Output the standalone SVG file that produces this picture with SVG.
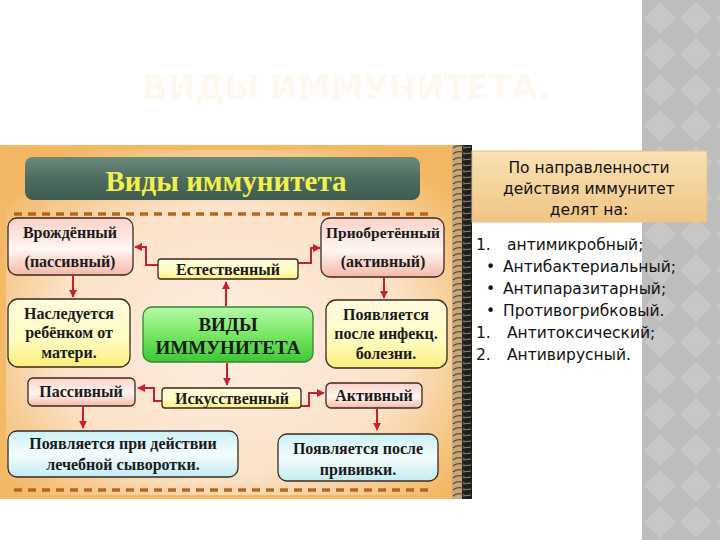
<svg xmlns="http://www.w3.org/2000/svg" width="720" height="540" viewBox="0 0 720 540">
<defs>
<style>
.node text{font-family:"Liberation Serif","DejaVu Serif",serif;font-weight:bold;fill:#1a1a1a;text-anchor:middle}
.nb{stroke:#3a2a20;stroke-width:1.3}
.conn path{fill:none;stroke:#c8202a;stroke-width:2;marker-end:url(#ah)}
.rt{font-family:"DejaVu Sans","Noto Sans",sans-serif;font-size:15.5px;fill:#111}
</style>
<marker id="ah" viewBox="0 0 10 10" refX="9" refY="5" markerWidth="4" markerHeight="4" orient="auto">
<path d="M0,0 L10,5 L0,10 z" fill="#c8202a"/>
</marker>
<radialGradient id="bg" cx="0.5" cy="0.55" r="0.65">
<stop offset="0" stop-color="#fdeee2"/>
<stop offset="0.6" stop-color="#fbe2c8"/>
<stop offset="1" stop-color="#f3b763"/>
</radialGradient>
<linearGradient id="title" x1="0" y1="0" x2="0" y2="1">
<stop offset="0" stop-color="#6b8a7c"/>
<stop offset="0.5" stop-color="#4d6d60"/>
<stop offset="1" stop-color="#3e5b50"/>
</linearGradient>
<linearGradient id="pink" x1="0" y1="0" x2="0" y2="1">
<stop offset="0" stop-color="#fbd2c8"/>
<stop offset="0.55" stop-color="#fff6f2"/>
<stop offset="1" stop-color="#f6b8a8"/>
</linearGradient>
<linearGradient id="yel" x1="0" y1="0" x2="0" y2="1">
<stop offset="0" stop-color="#fffbe0"/>
<stop offset="0.6" stop-color="#fffcc0"/>
<stop offset="1" stop-color="#fbef7a"/>
</linearGradient>
<linearGradient id="grn" x1="0" y1="0" x2="0" y2="1">
<stop offset="0" stop-color="#b9f7a8"/>
<stop offset="0.45" stop-color="#7fea6a"/>
<stop offset="1" stop-color="#3cc734"/>
</linearGradient>
<linearGradient id="blu" x1="0" y1="0" x2="0" y2="1">
<stop offset="0" stop-color="#c9f1f6"/>
<stop offset="0.5" stop-color="#f4fcfd"/>
<stop offset="1" stop-color="#c2ecf3"/>
</linearGradient>
<linearGradient id="tan" x1="0" y1="0" x2="0" y2="1">
<stop offset="0" stop-color="#f8e2b4"/>
<stop offset="1" stop-color="#f0c584"/>
</linearGradient>
<pattern id="diam" x="642" y="0" width="36" height="36" patternUnits="userSpaceOnUse">
<rect width="36" height="36" fill="#bdbdbd"/>
<path d="M18,2 L34,18 L18,34 L2,18 z" fill="#c7c7c7"/>
</pattern>
<pattern id="spiral" x="452" y="0" width="20" height="6" patternUnits="userSpaceOnUse">
<rect width="20" height="6" fill="#c9a77a"/>
<rect x="10" width="10" height="6" fill="#1f1f1c"/>
<path d="M1,4 Q6,0 13,3" stroke="#5e5040" stroke-width="1.3" fill="none"/>
<path d="M11,4 L19,3" stroke="#8a8a80" stroke-width="1" fill="none"/>
</pattern>
</defs>
<rect width="720" height="540" fill="#ffffff"/>
<rect x="642" y="0" width="78" height="540" fill="url(#diam)"/>
<text x="346" y="99" font-family="DejaVu Sans,sans-serif" font-size="33" font-weight="bold" fill="#fdf8f0" text-anchor="middle">ВИДЫ ИММУНИТЕТА.</text>

<g id="panel">
<rect x="0" y="145" width="472" height="354" fill="#f3b965"/>
<rect x="6" y="150" width="448" height="345" fill="url(#bg)"/>
<rect x="452" y="145" width="20" height="354" fill="url(#spiral)"/>
<line x1="14" y1="214" x2="432" y2="214" stroke="#b8651c" stroke-width="3.5" stroke-dasharray="8,6"/>
<line x1="14" y1="490" x2="432" y2="490" stroke="#b8651c" stroke-width="3.5" stroke-dasharray="8,6"/>
</g>

<g id="title-bar">
<rect x="25" y="157" width="395" height="43" rx="8" fill="url(#title)"/>
<text x="226" y="191" font-family="Liberation Serif,serif" font-weight="bold" font-size="29" fill="#f3f04a" text-anchor="middle">Виды иммунитета</text>
</g>

<g class="conn" id="connectors">
<path d="M158,265 H146 V247 H135"/>
<path d="M298,263 H311 V248 H320"/>
<path d="M226,306 V282"/>
<path d="M73,276 V297"/>
<path d="M384,278 V298"/>
<path d="M227,363 V385"/>
<path d="M162,401 H154 V388 H138"/>
<path d="M301,406 H309 V393 H324"/>
<path d="M83,407 V428"/>
<path d="M377,409 V430"/>
</g>

<g class="node" id="n-vrozhd">
<rect class="nb" x="8" y="218" width="125" height="57" rx="9" fill="url(#pink)"/>
<text x="70" y="238" font-size="16">Врождённый</text>
<text x="70" y="267" font-size="16">(пассивный)</text>
</g>
<g class="node" id="n-priobr">
<rect class="nb" x="321" y="218" width="123" height="59" rx="9" fill="url(#pink)"/>
<text x="383" y="238" font-size="15.5">Приобретённый</text>
<text x="383" y="267" font-size="16">(активный)</text>
</g>
<g class="node" id="n-estest">
<rect class="nb" x="158" y="259" width="140" height="20" rx="3" fill="url(#yel)"/>
<text x="228" y="275" font-size="16">Естественный</text>
</g>
<g class="node" id="n-nasled">
<rect class="nb" x="8" y="299" width="122" height="68" rx="10" fill="url(#yel)"/>
<text x="69" y="319" font-size="16">Наследуется</text>
<text x="69" y="338" font-size="16">ребёнком от</text>
<text x="69" y="358" font-size="16">матери.</text>
</g>
<g class="node" id="n-vidy">
<rect x="143" y="307" width="170" height="55" rx="9" fill="url(#grn)" stroke="#2f8a2a" stroke-width="1.3"/>
<text x="228" y="331" font-size="19">ВИДЫ</text>
<text x="228" y="354" font-size="19">ИММУНИТЕТА</text>
</g>
<g class="node" id="n-infek">
<rect class="nb" x="326" y="300" width="121" height="68" rx="10" fill="url(#yel)"/>
<text x="386" y="320" font-size="16">Появляется</text>
<text x="386" y="339" font-size="16">после инфекц.</text>
<text x="386" y="359" font-size="16">болезни.</text>
</g>
<g class="node" id="n-passiv">
<rect class="nb" x="28" y="378" width="107" height="28" rx="5" fill="url(#pink)"/>
<text x="81" y="397" font-size="16">Пассивный</text>
</g>
<g class="node" id="n-iskus">
<rect class="nb" x="162" y="388" width="139" height="20" rx="3" fill="url(#yel)"/>
<text x="232" y="404" font-size="16">Искусственный</text>
</g>
<g class="node" id="n-aktiv">
<rect class="nb" x="326" y="383" width="96" height="25" rx="5" fill="url(#pink)"/>
<text x="374" y="401" font-size="16">Активный</text>
</g>
<g class="node" id="n-syvor">
<rect class="nb" x="8" y="431" width="230" height="46" rx="9" fill="url(#blu)"/>
<text x="123" y="449" font-size="16">Появляется при действии</text>
<text x="123" y="470" font-size="16">лечебной сыворотки.</text>
</g>
<g class="node" id="n-priviv">
<rect class="nb" x="278" y="434" width="160" height="47" rx="9" fill="url(#blu)"/>
<text x="358" y="454" font-size="16">Появляется после</text>
<text x="358" y="475" font-size="16">прививки.</text>
</g>

<g id="side-box">
<rect x="472" y="151" width="235" height="71" fill="url(#tan)" stroke="#e6c08a" stroke-width="1"/>
<text class="rt" x="589" y="173" text-anchor="middle">По направленности</text>
<text class="rt" x="589" y="194" text-anchor="middle">действия иммунитет</text>
<text class="rt" x="589" y="215" text-anchor="middle">делят на:</text>
</g>
<g id="list">
<text class="rt" x="476" y="250">1.</text><text class="rt" x="507" y="250">антимикробный;</text>
<text class="rt" x="486" y="272">•</text><text class="rt" x="503" y="272">Антибактериальный;</text>
<text class="rt" x="486" y="294">•</text><text class="rt" x="503" y="294">Антипаразитарный;</text>
<text class="rt" x="486" y="316">•</text><text class="rt" x="503" y="316">Противогрибковый.</text>
<text class="rt" x="476" y="338">1.</text><text class="rt" x="507" y="338">Антитоксический;</text>
<text class="rt" x="476" y="360">2.</text><text class="rt" x="507" y="360">Антивирусный.</text>
</g>
</svg>
